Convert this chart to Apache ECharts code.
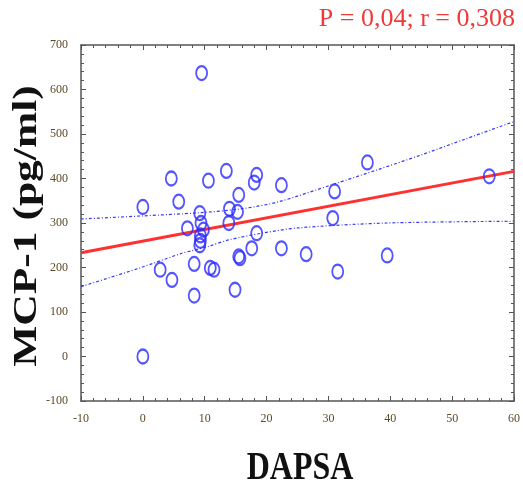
<!DOCTYPE html>
<html>
<head>
<meta charset="utf-8">
<script src="https://cdn.jsdelivr.net/npm/echarts@6/dist/echarts.min.js"></script>
<style>html,body{margin:0;padding:0;background:#fff}#c{width:523px;height:484px}</style>
</head>
<body>
<div id="c"></div>
<script>
const dapsa = [0, 0, 4.6, 5.8, 2.8, 4.7, 8.3, 8.3, 7.2, 9.5, 10.6, 13.5, 9.2, 9.4, 9.8, 9.3, 9.3, 9.2, 18.4, 18.0, 15.5, 14.0, 15.3, 13.9, 18.4, 17.6, 15.5, 15.7, 10.9, 11.5, 14.9, 22.4, 22.4, 26.4, 31.0, 30.7, 31.5, 36.3, 39.5, 56.0];
const mcp1 = [0, 336, 400, 348, 195, 172, 208, 137, 288, 637, 395, 417, 322, 300, 285, 272, 260, 250, 408, 391, 363, 332, 325, 300, 277, 243, 225, 221, 199, 195, 150, 385, 243, 230, 371, 311, 191, 436, 227, 405];
const fitX = [-10, 60];
const fitY = [233, 416];
const upperX = [-10, 0, 9, 16, 22, 31, 38, 45, 52, 60];
const upperY = [309, 316, 323, 332, 348, 388, 420, 453, 488, 528];
const lowerX = [-10, -0.5, 6.3, 8, 10.7, 13.9, 19.2, 25.1, 39.5, 60];
const lowerY = [157, 199, 232, 238, 248, 262, 277, 289, 300, 304];
const titleText = 'P = 0,04; r = 0,308';
const xTitle = 'DAPSA';
const yTitle = 'MCP-1 (pg/ml)';

const zip = (a, b) => a.map((v, i) => [v, b[i]]);
const axisColor = '#555';
const labelColor = '#5c4a28';
const serif = 'Liberation Serif, Times New Roman, serif';

function xAx(pos, showLabel) {
  return {
    type: 'value', position: pos, min: -10, max: 60, interval: 10,
    axisLine: { show: true, onZero: false, lineStyle: { color: axisColor, width: 1.5 } },
    axisTick: { show: true, inside: true, length: 5, lineStyle: { color: axisColor } },
    minorTick: { show: true, splitNumber: 5, length: 3, lineStyle: { color: axisColor } },
    axisLabel: { show: showLabel, margin: 12, fontFamily: serif, fontSize: 12, color: labelColor },
    splitLine: { show: false }
  };
}
function yAx(pos, showLabel) {
  return {
    type: 'value', position: pos, min: -100, max: 700, interval: 100,
    axisLine: { show: true, onZero: false, lineStyle: { color: axisColor, width: 1.5 } },
    axisTick: { show: true, inside: true, length: 5, lineStyle: { color: axisColor } },
    minorTick: { show: true, splitNumber: 5, length: 3, lineStyle: { color: axisColor } },
    axisLabel: { show: showLabel, margin: 13, fontFamily: serif, fontSize: 12, color: labelColor },
    splitLine: { show: false }
  };
}

const chart = echarts.init(document.getElementById('c'));
chart.setOption({
  animation: false,
  backgroundColor: '#fff',
  grid: { left: 81, top: 45, right: 5, bottom: 83, containLabel: false },
  xAxis: [xAx('bottom', true), xAx('top', false)],
  yAxis: [yAx('left', true), yAx('right', false)],
  graphic: [
    { type: 'text', right: 8, top: 6, style: { text: titleText, font: '26px ' + serif, fill: '#f03a3a' } },
    { type: 'text', x: 300, y: 469, scaleY: 1.25, style: { text: xTitle, font: 'bold 32px ' + serif, fill: '#111', textAlign: 'center', textVerticalAlign: 'middle' } },
    { type: 'text', x: 27, y: 226, rotation: Math.PI / 2, scaleX: 1.28, style: { text: yTitle, font: 'bold 34px ' + serif, fill: '#111', textAlign: 'center', textVerticalAlign: 'middle' } }
  ],
  series: [
    { type: 'line', data: zip(upperX, upperY), smooth: 0.3, symbol: 'none', lineStyle: { color: '#3a3aff', width: 1.2, type: [3, 2, 1, 2] }, z: 2 },
    { type: 'line', data: zip(lowerX, lowerY), smooth: 0.3, symbol: 'none', lineStyle: { color: '#3a3aff', width: 1.2, type: [3, 2, 1, 2] }, z: 2 },
    { type: 'line', data: zip(fitX, fitY), symbol: 'none', lineStyle: { color: '#ff3030', width: 3 }, z: 3 },
    { type: 'scatter', data: zip(dapsa, mcp1), symbol: 'circle', symbolSize: [11, 14],
      itemStyle: { color: 'rgba(0,0,0,0)', borderColor: '#2b2bff', borderWidth: 2 }, z: 4 }
  ]
});
</script>
</body>
</html>
